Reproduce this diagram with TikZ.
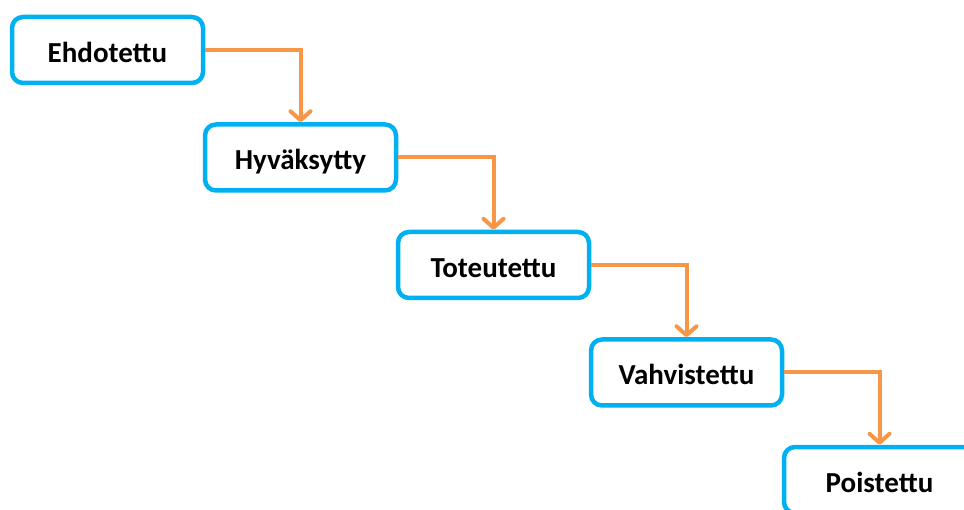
\documentclass[tikz,border=0pt]{standalone}
\usepackage{fontspec}
\setmainfont{Carlito}
\usetikzlibrary{arrows.meta}
\definecolor{boxblue}{HTML}{00B0F0}
\definecolor{arroworange}{HTML}{F79646}
\tikzset{
  statebox/.style={draw=boxblue, line width=4.5pt, rounded corners=11pt, fill=white,
    minimum width=191pt, minimum height=66pt, inner sep=0pt,
    text height=27pt, text depth=2.4pt,
    font=\fontsize{29}{32}\selectfont\bfseries},
  flow/.style={draw=arroworange, line width=4pt,
    -{Straight Barb[length=9pt,width=20pt,line cap=round,line join=round]}}
}
\begin{document}
\begin{tikzpicture}[x=1pt,y=1pt]
\useasboundingbox (0,0) rectangle (964,509);
\node[statebox] (s1) at (107.5,459) {Ehdotettu};
\node[statebox] (s2) at (300.5,351.5) {Hyväksytty};
\node[statebox] (s3) at (493.5,244) {Toteutettu};
\node[statebox] (s4) at (686.5,136.5) {Vahvistettu};
\node[statebox] (s5) at (879.5,29) {Poistettu};
\draw[flow] (s1.east) -| (s2.north);
\draw[flow] (s2.east) -| (s3.north);
\draw[flow] (s3.east) -| (s4.north);
\draw[flow] (s4.east) -| (s5.north);
\end{tikzpicture}
\end{document}
